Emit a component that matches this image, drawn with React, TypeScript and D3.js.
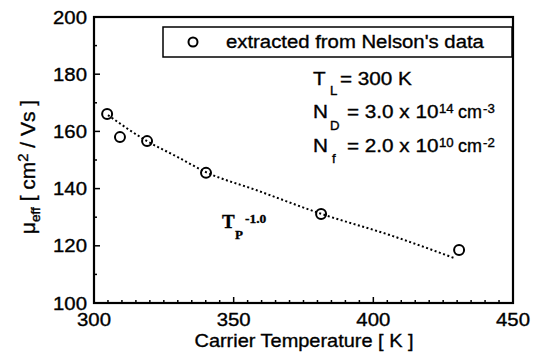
import React from 'react';
import * as d3 from 'd3';

// extracted points (carrier temperature K, mobility cm2/Vs)
const tempK = [304.7, 309.3, 319.0, 340.1, 381.3, 430.7];
const mobility = [166.1, 158.0, 156.6, 145.5, 131.1, 118.5];

// dotted T_P^-1.0 fit
const fitT = [305, 319, 330, 340, 358, 381, 407, 429];
const fitMu = [165.7, 156.6, 151.0, 145.8, 139.5, 131.3, 123.4, 115.7];

const xTicks = [300, 350, 400, 450];
const yTicks = [100, 120, 140, 160, 180, 200];

const W = 542;
const H = 360;
const SANS = '"Liberation Sans", Arial, Helvetica, sans-serif';
const SERIF = '"Liberation Serif", "Times New Roman", serif';

// helper: text stretched a bit horizontally, like the scanned figure
const Txt: React.FC<{
  x: number; y: number; size: number; sx?: number; anchor?: string;
  family?: string; weight?: string; children: React.ReactNode;
}> = ({ x, y, size, sx = 1.1, anchor = 'start', family = SANS, weight = 'normal', children }) => (
  <text
    transform={`translate(${x},${y}) scale(${sx},1)`}
    fontSize={size}
    fontFamily={family}
    fontWeight={weight}
    textAnchor={anchor}
    fill="#000"
    stroke="#000"
    strokeWidth={0.35}
  >
    {children}
  </text>
);

export default function App() {
  const x = d3.scaleLinear().domain([300, 450]).range([94, 513]);
  const y = d3.scaleLinear().domain([100, 200]).range([303, 17]);

  const fitLine = d3.line<number>()
    .x((_, i) => x(fitT[i]))
    .y((d) => y(d))
    .curve(d3.curveMonotoneX)(fitMu) || '';

  const xMinor = d3.range(300, 451, 5).filter((v) => v % 50 !== 0);
  const yMinor = d3.range(110, 200, 20);

  const [x0, x1] = x.range();
  const [y0, y1] = y.range();

  return (
    <svg width={W} height={H} style={{ position: 'absolute', left: 0, top: 0, background: '#fff' }}>
      <rect width={W} height={H} fill="#fff" />

      {/* frame */}
      <rect x={x0} y={y1} width={x1 - x0} height={y0 - y1} fill="none" stroke="#000" strokeWidth={2.2} />

      {/* x ticks, pointing inward */}
      {xTicks.map((t) => (
        <line key={'xt' + t} x1={x(t)} x2={x(t)} y1={y0} y2={y0 - 6} stroke="#000" strokeWidth={1.5} />
      ))}
      {xMinor.map((t) => (
        <line key={'xm' + t} x1={x(t)} x2={x(t)} y1={y0} y2={y0 - 3} stroke="#000" strokeWidth={1.5} />
      ))}
      {/* y ticks */}
      {yTicks.map((t) => (
        <line key={'yt' + t} x1={x0} x2={x0 + 6} y1={y(t)} y2={y(t)} stroke="#000" strokeWidth={1.5} />
      ))}
      {yMinor.map((t) => (
        <line key={'ym' + t} x1={x0} x2={x0 + 3} y1={y(t)} y2={y(t)} stroke="#000" strokeWidth={1.5} />
      ))}

      {/* tick labels */}
      {xTicks.map((t) => (
        <Txt key={'xl' + t} x={x(t)} y={y0 + 23} size={18.5} anchor="middle">{t}</Txt>
      ))}
      {yTicks.map((t) => (
        <Txt key={'yl' + t} x={87} y={y(t) + 6.5} size={18.5} anchor="end">{t}</Txt>
      ))}

      {/* axis titles */}
      <Txt x={304} y={347} size={19} sx={1.05} anchor="middle">Carrier Temperature [ K ]</Txt>
      <text
        transform={`translate(35,167) rotate(-90) scale(1.05,1)`}
        fontSize={20}
        fontFamily={SANS}
        textAnchor="middle"
        stroke="#000"
        strokeWidth={0.35}
      >
        μ<tspan fontSize={13} dy={5}>eff</tspan>
        <tspan dy={-5}> [ cm</tspan>
        <tspan fontSize={14} dy={-7}>2</tspan>
        <tspan dy={7}> / Vs ]</tspan>
      </text>

      {/* fit curve */}
      <path d={fitLine} fill="none" stroke="#000" strokeWidth={2} strokeDasharray="2 2.5" />

      {/* data */}
      {tempK.map((t, i) => (
        <circle key={'p' + i} cx={x(t)} cy={y(mobility[i])} r={5} fill="none" stroke="#000" strokeWidth={2} />
      ))}

      {/* legend */}
      <rect x={163} y={27} width={349} height={30} fill="#fff" stroke="#000" strokeWidth={1.5} />
      <circle cx={193} cy={42} r={4.5} fill="none" stroke="#000" strokeWidth={2} />
      <Txt x={226} y={48} size={19} sx={1.07}>extracted from Nelson's data</Txt>

      {/* parameters */}
      <Txt x={313} y={85} size={18} sx={1.15}>T</Txt>
      <Txt x={330} y={95} size={12}>L</Txt>
      <Txt x={340} y={85} size={18} sx={1.15}>= 300 K</Txt>

      <Txt x={313} y={118} size={18} sx={1.15}>N</Txt>
      <Txt x={330} y={130} size={12}>D</Txt>
      <Txt x={347} y={118} size={18} sx={1.15}>= 3.0 x 10</Txt>
      <Txt x={439} y={113} size={12}>14</Txt>
      <Txt x={458} y={118} size={18} sx={1.0}>cm</Txt>
      <Txt x={483} y={113} size={12}>-3</Txt>

      <Txt x={313} y={152} size={18} sx={1.15}>N</Txt>
      <Txt x={332} y={163} size={12}>f</Txt>
      <Txt x={347} y={152} size={18} sx={1.15}>= 2.0 x 10</Txt>
      <Txt x={439} y={147} size={12}>10</Txt>
      <Txt x={458} y={152} size={18} sx={1.0}>cm</Txt>
      <Txt x={483} y={147} size={12}>-2</Txt>

      {/* fit label */}
      <Txt x={222} y={228} size={19} sx={1.0} family={SERIF} weight="bold">T</Txt>
      <Txt x={235} y={239} size={13} sx={1.0} family={SERIF} weight="bold">P</Txt>
      <Txt x={245} y={223} size={13.5} sx={1.0} family={SERIF} weight="bold">-1.0</Txt>
    </svg>
  );
}
